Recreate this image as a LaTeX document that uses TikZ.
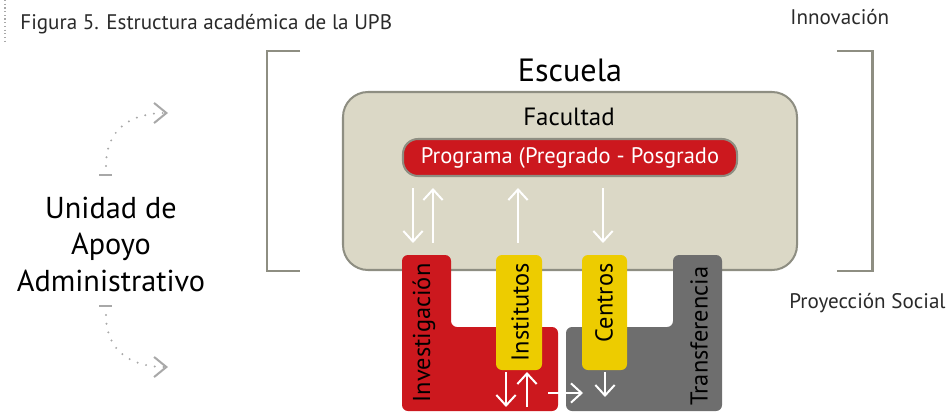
\documentclass[tikz,border=0pt]{standalone}
\usepackage{fontspec}
\setmainfont{PT Sans}
\usetikzlibrary{arrows.meta}

\definecolor{upbred}{HTML}{CC181E}
\definecolor{upbyellow}{HTML}{EDCC00}
\definecolor{upbgray}{HTML}{6E6E6E}
\definecolor{facfill}{HTML}{DBD8C6}
\definecolor{framegray}{HTML}{8E8E82}
\definecolor{dotgray}{HTML}{A8A8A8}
\definecolor{captext}{HTML}{2A2A2A}

% 1 px of the reference = 0.02cm = 0.57pt
\tikzset{
  bracket/.style={draw=framegray, line width=1.7pt},
  flow/.style={draw=white, line width=1.15pt, -{Straight Barb[length=6pt,width=11pt,line width=1.15pt]}},
  loop/.style={draw=dotgray, line width=1.25pt, line cap=round, dash pattern=on 0pt off 5pt,
    -{Straight Barb[length=7pt,width=11.4pt,line width=1.15pt]}},
  tick/.style={draw=dotgray, line width=1.4pt},
  sidetext/.style={anchor=west, inner sep=0pt, text=captext, font=\fontsize{12}{14}\selectfont},
  vlabel/.style={rotate=90, inner sep=0pt, font=\fontsize{13.9}{16}\selectfont},
  unitext/.style={font=\fontsize{17.2}{20}\selectfont},
}

\begin{document}
\begin{tikzpicture}[x=0.02cm, y=-0.02cm]
				\useasboundingbox (0,0) rectangle (949,412);
				
				% Caption and side texts
				\draw[dotgray, line width=0.7pt, dash pattern=on 0.7pt off 1.4pt] (5,0) -- (5,42);
				\node[sidetext] (caption) at (20,24) {Figura 5. Estructura académica de la UPB};
				\node[sidetext] (innov) at (790,17) {Innovación};
				\node[sidetext] (proy) at (789,303) {Proyección Social};
				
				% Brackets
				\draw[bracket] (300,51) -- (267,51) -- (267,271) -- (300,271);
				\draw[bracket] (837,51) -- (872,51) -- (872,271) -- (837,271);
				\node[font=\fontsize{18.3}{20}\selectfont] (escuela) at (570,70) {Escuela};
				
				% Facultad
				\draw[fill=facfill, draw=framegray, line width=1.15pt, rounded corners=0.5cm] (343,92) rectangle (797,270);
				\node[font=\fontsize{14.2}{16}\selectfont] (facultad) at (569,117) {Facultad};
				\draw[fill=upbred, draw=framegray, line width=1.15pt, rounded corners=0.3cm] (403,139) rectangle (737,176);
				\node[text=white, font=\fontsize{12.8}{14}\selectfont] (programa) at (570,158) {Programa (Pregrado - Posgrado};
				
				% Bottom blocks
				\fill[upbred, rounded corners=0.12cm] (402,411) -- (402,255) -- (451,255) -- (451,327) -- (558,327) -- (558,411) -- cycle;
				\fill[upbgray, rounded corners=0.12cm] (566,411) -- (566,327) -- (673,327) -- (673,255) -- (722,255) -- (722,411) -- cycle;
				\fill[upbyellow, rounded corners=0.12cm] (496,255) rectangle (542,370);
				\fill[upbyellow, rounded corners=0.12cm] (582,255) rectangle (627,370);
				\node[vlabel] (investigacion) at (424,333) {Investigación};
				\node[vlabel] (institutos) at (520,312) {Institutos};
				\node[vlabel] (centros) at (604,303) {Centros};
				\node[vlabel] (transferencia) at (699,336) {Transferencia};
				
				% Arrow ends
				\coordinate (p1) at (413,188); \coordinate (q1) at (413,243);
				\coordinate (p2) at (433,243); \coordinate (q2) at (433,188);
				\coordinate (p3) at (518,243); \coordinate (q3) at (518,188);
				\coordinate (p4) at (603,188); \coordinate (q4) at (603,243);
				\coordinate (r1) at (506,372); \coordinate (s1) at (506,407);
				\coordinate (r2) at (527,407); \coordinate (s2) at (527,372);
				\coordinate (r3) at (548,393); \coordinate (s3) at (583,393);
				\coordinate (r4) at (605,372); \coordinate (s4) at (605,397);
				\draw[flow] (p1) -- (q1);
				\draw[flow] (p2) -- (q2);
				\draw[flow] (p3) -- (q3);
				\draw[flow] (p4) -- (q4);
				\draw[flow] (r1) -- (s1);
				\draw[flow] (r2) -- (s2);
				\draw[flow] (r3) -- (s3);
				\draw[flow] (r4) -- (s4);
				
				% Unidad de Apoyo
				\node[unitext] (unidad) at (111,208) {Unidad de};
				\node[unitext] (apoyo) at (111,247) {Apoyo};
				\node[unitext] (admin) at (111,281) {Administrativo};
				\draw[tick] (99,175) -- (112,175);
				\draw[tick] (99,306) -- (112,306);
				\coordinate (u1) at (106,166); \coordinate (u2) at (168,113);
				\coordinate (d1) at (106,315); \coordinate (d2) at (168,367);
				\draw[loop] (u1) .. controls (106,128) and (132,113) .. (u2);
				\draw[loop] (d1) .. controls (106,352) and (132,367) .. (d2);
			\end{tikzpicture}
\end{document}
